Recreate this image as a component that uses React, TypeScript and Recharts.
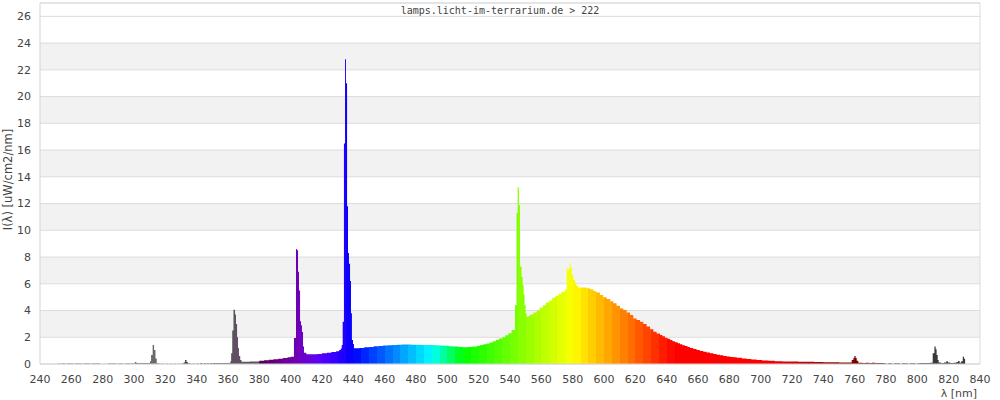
import React from "react"
import {
  AreaChart,
  Area,
  XAxis,
  YAxis,
  CartesianGrid,
  ReferenceArea,
  ReferenceLine,
} from "recharts"

type Pt = [number, number]

// [wavelength nm, intensity uW/cm2/nm], each value holds until the next wavelength
const uvLines: Pt[] = [
  [251.7, 0.05], [252.8, 0], [253.8, 0.05], [256, 0], [257, 0.05], [261.3, 0], [262.3, 0.05],
  [266.6, 0], [267.7, 0.05], [272, 0], [272.7, 0.05], [278.3, 0], [283.6, 0.05], [289, 0],
  [290, 0.05], [293.2, 0], [294.3, 0.05], [299.6, 0.06], [300.6, 0.15], [301.5, 0.08],
  [310.2, 0.2], [310.9, 0.67], [311.9, 1.42], [312.8, 1.05], [313.7, 0.42], [314.5, 0.05],
  [315.5, 0.04], [317, 0], [318, 0.04], [319, 0], [320.5, 0.04], [321.5, 0], [323, 0.04],
  [324, 0], [325.5, 0.04], [326.5, 0], [328, 0.04], [329, 0], [330.5, 0.04], [331.8, 0.12],
  [332.6, 0.3], [333.5, 0.15], [334.3, 0.06], [335, 0.03], [336.5, 0], [337.5, 0.04],
  [338.5, 0], [340, 0.04], [341, 0], [342, 0.05], [344, 0], [344.7, 0.05], [346, 0],
  [346.5, 0.06], [348, 0], [348.5, 0.06], [350.6, 0.07], [356, 0.08], [361.5, 0.2],
  [362, 0.8], [362.7, 2.5], [363.5, 4.05], [364.5, 3.7], [365.1, 3.0], [365.8, 2.0],
  [366.4, 1.2], [367, 0.6], [367.8, 0.3], [368.6, 0.16], [374, 0.18],
]

const violet: Pt[] = [
  [380, 0.25], [383, 0.28], [386, 0.32], [389, 0.36], [392, 0.4], [395, 0.45], [398, 0.5],
  [400, 0.55], [402.1, 1.95], [403.4, 8.6], [404, 8.5], [404.7, 6.9], [405.3, 5.5],
  [406, 3.2], [406.6, 2.9], [407.2, 2.4], [407.9, 1.3], [408.5, 0.85], [410, 0.72],
  [414, 0.72], [417, 0.75], [420, 0.8], [423, 0.85], [426, 0.9], [429, 0.95], [431, 1.05],
  [432, 1.15],
]

const blueLine: Pt[] = [
  [432.6, 1.42], [433.2, 3.16], [434, 16.5], [434.7, 22.8], [435.3, 21.0], [436, 11.8],
  [436.6, 8.3], [437.2, 7.5], [437.9, 6.2], [438.5, 3.8], [439.1, 1.8], [439.8, 1.5],
  [440.4, 1.18],
]

const cyanGreen: Pt[] = [
  [444, 1.2], [447, 1.25], [450, 1.27], [453, 1.32], [456, 1.35], [459, 1.38], [462, 1.4],
  [465, 1.42], [468, 1.44], [471, 1.45], [474, 1.45], [477, 1.44], [480, 1.44], [483, 1.43],
  [486, 1.43], [489, 1.42], [492, 1.4], [495, 1.38], [498, 1.36], [501, 1.33], [504, 1.3],
  [507, 1.27], [510, 1.26], [513, 1.28], [516, 1.3], [519, 1.36], [521, 1.42], [523, 1.48],
  [525, 1.53], [527, 1.6], [529, 1.7], [531, 1.8], [533, 1.9], [535, 2.0], [537, 2.15],
  [539, 2.3], [541, 2.55],
]

const greenLine: Pt[] = [
  [543.2, 4.4], [544.2, 11.3], [544.9, 13.2], [545.7, 11.9], [546.4, 7.3], [547.4, 6.5],
  [548.1, 5.9], [548.7, 5.2], [549.3, 4.4], [550, 3.8], [550.6, 3.55], [551.9, 3.6],
]

const yellowOrange: Pt[] = [
  [553, 3.7], [555, 3.85], [557, 4.0], [559, 4.2], [561, 4.4], [563, 4.6], [565, 4.75],
  [567, 4.95], [569, 5.1], [571, 5.25], [573, 5.4], [575.1, 5.6], [576.2, 7.16], [576.8, 7.0],
  [577.4, 7.16], [578.1, 7.53], [578.7, 7.2], [579.4, 6.66], [580.4, 6.28], [581.5, 6.03],
  [582.5, 5.83], [583.6, 5.73], [586, 5.72], [588.9, 5.66], [591, 5.6], [593.2, 5.46],
  [595, 5.35], [597.4, 5.16], [599.5, 5.0], [601.7, 4.86], [604, 4.7], [605.9, 4.54],
  [608, 4.35], [610.2, 4.16],
]

const redTail: Pt[] = [
  [612.3, 4.04], [614.5, 3.86], [616.6, 3.66], [618.7, 3.41], [620.8, 3.29], [623, 3.16],
  [625.1, 3.0], [627.2, 2.8], [629.4, 2.6], [631.5, 2.42], [633.6, 2.29], [635.7, 2.17],
  [637.3, 2.07], [638.9, 1.97], [640.5, 1.88], [642.1, 1.8], [643.7, 1.7], [645.3, 1.62],
  [647, 1.55], [648.5, 1.47], [650, 1.4], [651.7, 1.35], [653.3, 1.27], [654.9, 1.2],
  [657, 1.12], [659.1, 1.05], [661.2, 0.98], [663.4, 0.92], [665.5, 0.86], [667.6, 0.8],
  [669.8, 0.75], [671.9, 0.7], [674, 0.65], [676.2, 0.6], [678.3, 0.56], [680.4, 0.52],
  [682.5, 0.5], [684.7, 0.47], [688, 0.42], [691, 0.37], [694, 0.34], [697.4, 0.3],
  [701, 0.27], [705, 0.25], [709, 0.2], [714, 0.19], [719, 0.18], [724, 0.17], [729, 0.16],
  [734, 0.15], [740, 0.14], [745, 0.13], [750, 0.12], [755, 0.12], [758.1, 0.3],
  [759.2, 0.45], [759.8, 0.6], [760.6, 0.45], [761.3, 0.25], [762.3, 0.1], [765, 0.08],
  [767, 0.1], [769, 0.08], [771, 0.1], [773, 0.07], [776, 0.07],
]

const infrared: Pt[] = [
  [778.3, 0.05], [780, 0], [781, 0.06], [783, 0.06], [784, 0], [785, 0.05], [787, 0.06],
  [789, 0], [790, 0.05], [792, 0.06], [794, 0], [795, 0.05], [797, 0.05], [799, 0],
  [800, 0.06], [802, 0.07], [804, 0.07], [806, 0.08], [808, 0.1], [809.8, 0.8],
  [810.9, 1.3], [811.7, 1.1], [812.3, 0.67], [813, 0.3], [813.6, 0.12], [815, 0.08],
  [817, 0.12], [818.5, 0.2], [819.5, 0.12], [821, 0.08], [823, 0.1], [825, 0.15],
  [826, 0.23], [827, 0.1], [828, 0.2], [829, 0.55], [829.8, 0.4], [830.5, 0],
]

const xTicks = [240, 260, 280, 300, 320, 340, 360, 380, 400, 420, 440, 460, 480, 500, 520, 540, 560, 580, 600, 620, 640, 660, 680, 700, 720, 740, 760, 780, 800, 820, 840]
const yTicks = [0, 2, 4, 6, 8, 10, 12, 14, 16, 18, 20, 22, 24, 26]
const grayBands = [2, 6, 10, 14, 18, 22]

const spectrum = [
  ...uvLines, ...violet, ...blueLine, ...cyanGreen, ...greenLine,
  ...yellowOrange, ...redTail, ...infrared,
].map(([nm, v]) => ({ nm, v }))

// approximate wavelength -> colour, visible range
function visibleRgb(nm: number) {
  let r = 0, g = 0, b = 0
  if (nm < 440) { r = (440 - nm) / 60; b = 1 }
  else if (nm < 490) { g = (nm - 440) / 50; b = 1 }
  else if (nm < 510) { g = 1; b = (510 - nm) / 20 }
  else if (nm < 580) { r = (nm - 510) / 70; g = 1 }
  else if (nm < 645) { r = 1; g = (645 - nm) / 65 }
  else { r = 1 }
  let f = 1
  if (nm < 420) f = 0.3 + (0.7 * (nm - 380)) / 40
  else if (nm > 700) f = 0.3 + (0.7 * (780 - nm)) / 80
  const c = (x: number) => Math.round(255 * x * f)
  return `rgb(${c(r)},${c(g)},${c(b)})`
}

function blockColor(start: number) {
  if (start < 300) return "#8c8c8c"
  if (start < 330) return "#6a6a6a"
  if (start < 350) return "#3a3a3a"
  if (start < 380) return "#5e5060"
  if (start >= 780) return "#383838"
  return visibleRgb(start + 2.5)
}

const lo = spectrum[0].nm
const hi = spectrum[spectrum.length - 1].nm

function gradientStops() {
  const stops: React.ReactElement[] = []
  for (let s = 250; s < hi; s += 5) {
    const a = Math.max(0, (s - lo) / (hi - lo))
    const b = Math.min(1, (s + 5 - lo) / (hi - lo))
    const col = blockColor(s)
    stops.push(<stop key={`a${s}`} offset={a} stopColor={col} />)
    stops.push(<stop key={`b${s}`} offset={b} stopColor={col} />)
  }
  return stops
}

const tickStyle = { fontSize: 11, fill: "#444" }

export default function App() {
  return (
    <div style={{ position: "relative", width: 1000, height: 400, fontFamily: "'DejaVu Sans', sans-serif" }}>
      <style>{"body{margin:0}"}</style>
      <AreaChart width={1000} height={400} data={spectrum} margin={{ top: 3, right: 20, bottom: 0, left: 0 }}>
        <defs>
          <linearGradient id="lambdaFill" x1="0" y1="0" x2="1" y2="0">
            {gradientStops()}
          </linearGradient>
        </defs>
        {grayBands.map((v) => (
          <ReferenceArea key={v} y1={v} y2={v + 2} fill="#f2f2f2" fillOpacity={1} stroke="none" zIndex={-150} />
        ))}
        <CartesianGrid vertical={false} stroke="#dcdcdc" />
        <XAxis
          type="number"
          dataKey="nm"
          domain={[240, 840]}
          ticks={xTicks}
          interval={0}
          tickLine={false}
          tickMargin={5}
          axisLine={{ stroke: "#d4d4d4" }}
          tick={tickStyle}
          height={36}
          label={{ value: "λ [nm]", position: "insideBottomRight", offset: 3, fontSize: 11, fill: "#444" }}
        />
        <YAxis
          domain={[0, 27]}
          ticks={yTicks}
          interval={0}
          tickLine={false}
          tickMargin={3}
          axisLine={{ stroke: "#d4d4d4" }}
          tick={tickStyle}
          width={40}
          label={{ value: "I(λ)  [uW/cm2/nm]", angle: -90, position: "center", dx: -12, dy: -4, fontSize: 11.5, fill: "#444" }}
        />
        <Area
          type="stepAfter"
          dataKey="v"
          stroke="none"
          fill="url(#lambdaFill)"
          fillOpacity={1}
          baseValue={0}
          dot={false}
          activeDot={false}
          isAnimationActive={false}
        />
        <ReferenceLine y={27} stroke="#dcdcdc" />
        <ReferenceLine x={840} stroke="#dcdcdc" />
      </AreaChart>
      <div
        style={{
          position: "absolute",
          top: 5,
          left: 0,
          width: 1000,
          textAlign: "center",
          fontFamily: "'DejaVu Sans Mono', monospace",
          fontSize: 10,
          color: "#444",
          lineHeight: "12px",
        }}
      >
        lamps.licht-im-terrarium.de &gt; 222
      </div>
    </div>
  )
}
